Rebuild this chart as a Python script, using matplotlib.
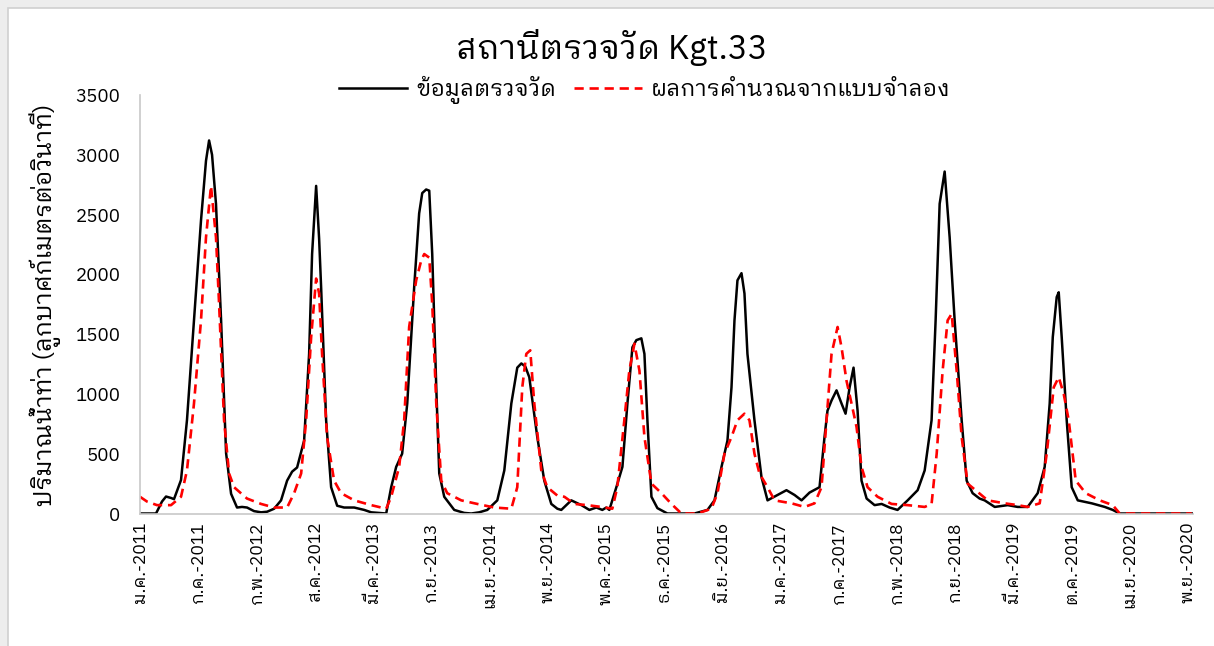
import matplotlib
matplotlib.use("Agg")
import matplotlib.pyplot as plt
from matplotlib.patches import Rectangle

plt.rcParams['font.family'] = ['IBM Plex Sans Thai Looped', 'IBM Plex Sans Thai',
                               'DejaVu Sans']

# observed discharge (m3/s), time in decimal years
obs_year = [2011.000, 2011.151, 2011.207, 2011.245, 2011.292, 2011.320, 2011.386,
            2011.442, 2011.508, 2011.574, 2011.621, 2011.650, 2011.678, 2011.715,
            2011.763, 2011.810, 2011.857, 2011.913, 2011.960, 2012.007, 2012.073,
            2012.139, 2012.196, 2012.262, 2012.327, 2012.384, 2012.431, 2012.478,
            2012.544, 2012.591, 2012.619, 2012.657, 2012.685, 2012.704, 2012.751,
            2012.798, 2012.855, 2012.920, 2013.015, 2013.109, 2013.175, 2013.250,
            2013.316, 2013.363, 2013.410, 2013.466, 2013.514, 2013.579, 2013.626,
            2013.655, 2013.692, 2013.721, 2013.749, 2013.787, 2013.815, 2013.862,
            2013.956, 2014.050, 2014.116, 2014.191, 2014.267, 2014.361, 2014.427,
            2014.493, 2014.549, 2014.587, 2014.624, 2014.662, 2014.737, 2014.803,
            2014.869, 2014.926, 2014.963, 2015.057, 2015.152, 2015.227, 2015.293,
            2015.349, 2015.387, 2015.415, 2015.481, 2015.538, 2015.585, 2015.632,
            2015.669, 2015.716, 2015.745, 2015.773, 2015.811, 2015.867, 2015.961,
            2016.215, 2016.338, 2016.404, 2016.470, 2016.526, 2016.564, 2016.592,
            2016.620, 2016.658, 2016.686, 2016.714, 2016.780, 2016.846, 2016.903,
            2016.997, 2017.081, 2017.157, 2017.223, 2017.298, 2017.392, 2017.439,
            2017.467, 2017.505, 2017.552, 2017.599, 2017.637, 2017.675, 2017.712,
            2017.750, 2017.787, 2017.835, 2017.910, 2017.976, 2018.051, 2018.126,
            2018.221, 2018.315, 2018.381, 2018.446, 2018.484, 2018.522, 2018.569,
            2018.616, 2018.663, 2018.729, 2018.776, 2018.832, 2018.898, 2018.945,
            2019.040, 2019.162, 2019.256, 2019.350, 2019.444, 2019.510, 2019.557,
            2019.586, 2019.623, 2019.642, 2019.670, 2019.717, 2019.764, 2019.821,
            2019.953, 2020.075, 2020.150, 2020.216, 2020.894]
obs_flow = [0, 0, 100, 142, 130, 120, 280,
            780, 1615, 2450, 2950, 3120, 3000, 2590,
            1615, 505, 165, 50, 55, 50, 20,
            10, 15, 40, 110, 275, 350, 385,
            610, 1335, 2170, 2740, 2300, 1890, 780,
            220, 65, 50, 50, 30, 10, 5,
            0, 220, 390, 500, 920, 1890, 2510,
            2680, 2710, 2700, 2170, 1055, 335, 140,
            30, 5, 0, 10, 30, 110, 360,
            920, 1220, 1255, 1230, 1140, 640, 275,
            80, 40, 30, 110, 70, 30, 50,
            30, 50, 30, 220, 390, 920, 1390,
            1450, 1465, 1335, 780, 140, 45, 0,
            0, 30, 110, 390, 610, 1055, 1615,
            1950, 2010, 1840, 1335, 780, 305, 110,
            155, 195, 155, 110, 175, 220, 640,
            860, 945, 1030, 920, 835, 1055, 1220,
            860, 275, 125, 70, 80, 50, 30,
            110, 195, 360, 780, 1615, 2590, 2860,
            2310, 1615, 780, 275, 170, 125, 110,
            55, 70, 55, 55, 170, 390, 920,
            1475, 1810, 1850, 1475, 780, 220, 110,
            85, 55, 30, 0, 0]

# model result (m3/s)
sim_year = [2011.000, 2011.066, 2011.160, 2011.292, 2011.386, 2011.442, 2011.508,
            2011.574, 2011.621, 2011.668, 2011.715, 2011.744, 2011.791, 2011.838,
            2011.885, 2012.007, 2012.139, 2012.262, 2012.384, 2012.450, 2012.516,
            2012.563, 2012.610, 2012.657, 2012.685, 2012.713, 2012.760, 2012.826,
            2012.892, 2013.015, 2013.175, 2013.316, 2013.363, 2013.438, 2013.485,
            2013.532, 2013.598, 2013.645, 2013.674, 2013.721, 2013.749, 2013.787,
            2013.834, 2013.890, 2014.022, 2014.173, 2014.333, 2014.493, 2014.549,
            2014.596, 2014.634, 2014.671, 2014.709, 2014.775, 2014.831, 2014.926,
            2014.992, 2015.086, 2015.208, 2015.340, 2015.443, 2015.490, 2015.556,
            2015.603, 2015.651, 2015.698, 2015.745, 2015.811, 2015.905, 2015.999,
            2016.093, 2016.244, 2016.375, 2016.432, 2016.498, 2016.564, 2016.620,
            2016.686, 2016.733, 2016.780, 2016.827, 2016.903, 2016.969, 2017.129,
            2017.251, 2017.345, 2017.411, 2017.458, 2017.505, 2017.562, 2017.599,
            2017.646, 2017.693, 2017.740, 2017.787, 2017.844, 2017.938, 2018.070,
            2018.221, 2018.381, 2018.446, 2018.494, 2018.550, 2018.597, 2018.635,
            2018.682, 2018.729, 2018.785, 2018.880, 2018.974, 2019.134, 2019.256,
            2019.350, 2019.463, 2019.529, 2019.595, 2019.642, 2019.689, 2019.736,
            2019.802, 2019.896, 2020.028, 2020.150, 2020.216, 2020.894]
sim_flow = [140, 100, 70, 70, 140, 360, 920,
            1615, 2310, 2740, 2310, 1755, 780, 335,
            220, 125, 80, 50, 50, 170, 335,
            780, 1475, 1965, 1840, 1335, 640, 275,
            170, 110, 70, 40, 140, 390, 780,
            1560, 1950, 2115, 2170, 2140, 1755, 920,
            275, 170, 110, 80, 50, 40, 220,
            1055, 1335, 1365, 920, 360, 220, 150,
            140, 80, 70, 55, 40, 220, 780,
            1195, 1420, 1195, 640, 250, 170, 80,
            0, 0, 40, 170, 500, 640, 780,
            835, 780, 500, 335, 220, 110, 85,
            55, 85, 220, 780, 1335, 1560, 1390,
            1110, 920, 725, 390, 220, 140, 80,
            70, 55, 80, 500, 1195, 1615, 1670,
            1195, 640, 250, 180, 110, 85, 70,
            55, 85, 500, 1055, 1140, 1000, 780,
            275, 170, 110, 70, 0, 0]

# x ticks every 200 days from 1 Jan 2011
tick_labels = ['ม.ค.-2011', 'ก.ค.-2011', 'ก.พ.-2012', 'ส.ค.-2012', 'มี.ค.-2013',
               'ก.ย.-2013', 'เม.ย.-2014', 'พ.ย.-2014', 'พ.ค.-2015', 'ธ.ค.-2015',
               'มิ.ย.-2016', 'ม.ค.-2017', 'ก.ค.-2017', 'ก.พ.-2018', 'ก.ย.-2018',
               'มี.ค.-2019', 'ต.ค.-2019', 'เม.ย.-2020', 'พ.ย.-2020']
tick_pos = [2011 + k * 200 / 365.25 for k in range(len(tick_labels))]

fig = plt.figure(figsize=(12.14, 6.46), dpi=100)
fig.patches.append(Rectangle((8 / 1214, -0.01), 1.0, 1 - 8 / 646 + 0.01,
                             transform=fig.transFigure, facecolor='white',
                             edgecolor='#d0d0d0', linewidth=1.2, zorder=-1))
fig.set_facecolor('#ededed')

ax = fig.add_axes([0.1153, 0.2051, 0.8674, 0.6478])
ax.plot(obs_year, obs_flow, color='black', lw=1.8, label='ข้อมูลตรวจวัด',
        solid_joinstyle='round')
ax.plot(sim_year, sim_flow, color='#ff0000', lw=1.9, ls=(0, (3.5, 2.2)),
        label='ผลการคำนวณจากแบบจำลอง')

ax.set_xlim(2011.0, 2020.905)
ax.set_ylim(0, 3500)
ax.set_yticks(range(0, 3501, 500))
ax.set_xticks(tick_pos)
ax.set_xticklabels(tick_labels, rotation=90, fontsize=12.5)
ax.tick_params(length=0, pad=6)
ax.tick_params(axis='y', labelsize=13.5, pad=14)
for s in ['top', 'right']:
    ax.spines[s].set_visible(False)
for s in ['left', 'bottom']:
    ax.spines[s].set_color('#c8c8c8')
    ax.spines[s].set_linewidth(1.2)

fig.text(45 / 1214, 1 - 305 / 646, 'ปริมาณน้ำท่า (ลูกบาศก์เมตรต่อวินาที)',
         rotation=90, ha='center', va='center', fontsize=17.5)
fig.text(612 / 1214, 1 - 48 / 646, 'สถานีตรวจวัด Kgt.33', ha='center',
         va='center', fontsize=24)
fig.legend(loc='center', bbox_to_anchor=(645 / 1214, 1 - 90 / 646), ncol=2,
           frameon=False, fontsize=16.3, handlelength=3.0, columnspacing=0.8,
           handletextpad=0.4)

fig.savefig('out.png', dpi=100, facecolor=fig.get_facecolor())
